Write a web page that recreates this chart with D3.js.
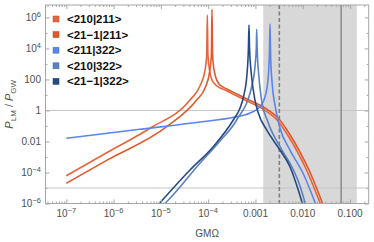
<!DOCTYPE html>
<html>
<head>
<meta charset="utf-8">
<script src="https://cdn.jsdelivr.net/npm/d3@7"></script>
<style>
  body { margin: 0; background: #fff; }
  svg { display: block; font-family: "Liberation Sans", Arial, sans-serif; }
</style>
</head>
<body>
<script>
// valeurs : [GMΩ, P_LM/P_GW]
const s210_211 = [
  [1e-7, 6.2e-5], [7.6e-7, 2.1e-3], [5.9e-6, 0.071], [4.13e-5, 4.7], [6.7e-5, 37.7],
  [8.6e-5, 405], [9.3e-5, 3600], [9.6e-5, 1.43e6], [9.9e-5, 3600], [1.07e-4, 405],
  [1.205e-4, 92], [1.54e-4, 37.7], [2.27e-4, 20.8], [3.7e-4, 9.9], [6.6e-4, 4.07],
  [1.44e-3, 1.24], [2.86e-3, 0.242], [4.65e-3, 0.0303], [7.56e-3, 2.43e-3],
  [0.0123, 1.25e-4], [0.02, 3.5e-6], [0.0268, 3.8e-7]
];
const s21m1_211 = [
  [1e-7, 2.0e-5], [7.6e-7, 6.7e-4], [1.33e-5, 0.0896], [5.71e-5, 4.7], [8.6e-5, 28],
  [1.07e-4, 301], [1.17e-4, 3600], [1.205e-4, 3.3e6], [1.24e-4, 3600], [1.36e-4, 301],
  [1.69e-4, 50.7], [2.5e-4, 24.2], [4.07e-4, 11.5], [7.3e-4, 4.7], [1.59e-3, 1.44],
  [3.14e-3, 0.281], [5.1e-3, 0.0352], [8.3e-3, 2.8e-3], [0.01355, 1.45e-4],
  [0.022, 4.1e-6], [0.0295, 3.8e-7]
];
const s211_322 = [
  [1e-7, 0.016], [3.6e-6, 0.061], [6.7e-5, 0.18], [3.7e-4, 0.378], [7.7e-4, 0.685],
  [1.25e-3, 1.74], [1.59e-3, 7.4], [1.84e-3, 92], [1.97e-3, 3760], [2.03e-3, 3.75e5],
  [2.09e-3, 3760], [2.27e-3, 43.7], [2.59e-3, 2.24], [3.3e-3, 0.074], [5.37e-3, 2.8e-3],
  [0.0101, 9.3e-5], [0.0197, 6.2e-7]
];
const s210_322 = [
  [7.2e-6, 2.1e-7], [1.44e-5, 1.68e-6], [6.7e-5, 3.9e-4], [1.78e-4, 0.0107], [4.0e-4, 0.242],
  [8.3e-4, 34], [9.77e-4, 662], [1.045e-3, 1.29e4], [1.06e-3, 1.7e5], [1.085e-3, 1.29e4],
  [1.2e-3, 92], [1.35e-3, 4.7], [1.84e-3, 0.18], [3.64e-3, 2.8e-3], [5.9e-3, 2.26e-4],
  [8.75e-3, 1.35e-5], [0.0117, 6.9e-7]
];
const s21m1_322 = [
  [5.9e-6, 2.1e-7], [4.13e-5, 1.45e-4], [1.28e-4, 4.6e-3], [3.4e-4, 0.242], [4.7e-4, 1.38],
  [5.7e-4, 9.9], [6.6e-4, 193], [7.1e-4, 1.06e4], [7.3e-4, 3.2e5], [7.5e-4, 1.06e4],
  [8.3e-4, 150], [9.77e-4, 4.7], [1.13e-3, 0.79], [1.73e-3, 0.055], [3.3e-3, 2.8e-3],
  [5.37e-3, 2.36e-4], [8.05e-3, 7.4e-6], [0.0103, 6.2e-7]
];

const seriesNames = ["<210|211>", "<21\u22121|211>", "<211|322>", "<210|322>", "<21\u22121|322>"];
const seriesData = [s210_211, s21m1_211, s211_322, s210_322, s21m1_322];
const seriesColors = ["#e9643a", "#e0582b", "#5b84ee", "#5a80c2", "#264a84"];

const xTicks = [1e-7, 1e-6, 1e-5, 1e-4, 1e-3, 1e-2, 1e-1];
const xTickLabels = [["10", "\u22127"], ["10", "\u22126"], ["10", "\u22125"], ["10", "\u22124"], ["0.001"], ["0.010"], ["0.100"]];
const yTicks = [1e6, 1e4, 100, 1, 0.01, 1e-4, 1e-6];
const yTickLabels = [["10", "6"], ["10", "4"], ["100"], ["1"], ["0.01"], ["10", "\u22124"], ["10", "\u22126"]];

const shadeRange = [1.46e-3, 0.139];
const dashedX = 3.2e-3;
const solidX = 0.065;
const hLines = [1, 1e-5];

const width = 374, height = 242;
const svg = d3.select("body").append("svg").attr("width", width).attr("height", height);

const x = d3.scaleLog().domain([10 ** -7.44, 10 ** -0.605]).range([45.5, 368.7]);
const y = d3.scaleLog().domain([1e-6, 10 ** 6.8]).range([203.5, 5]);

const [x0, x1] = x.range();
const [y0, y1] = y.range();

svg.append("clipPath").attr("id", "clip")
  .append("rect").attr("x", x0).attr("y", y1).attr("width", x1 - x0).attr("height", y0 - y1);

// zone grisée
svg.append("rect")
  .attr("x", x(shadeRange[0])).attr("y", y1)
  .attr("width", x(shadeRange[1]) - x(shadeRange[0])).attr("height", y0 - y1)
  .attr("fill", "#d8d8d8");

// lignes horizontales
svg.selectAll(".hline").data(hLines).join("line")
  .attr("x1", x0).attr("x2", x1)
  .attr("y1", d => y(d)).attr("y2", d => y(d))
  .attr("stroke", "#c4c4c4").attr("stroke-width", 1);

svg.append("line")
  .attr("x1", x(dashedX)).attr("x2", x(dashedX)).attr("y1", y1).attr("y2", y0)
  .attr("stroke", "#7e7e7e").attr("stroke-width", 1.6).attr("stroke-dasharray", "4,2.5");
svg.append("line")
  .attr("x1", x(solidX)).attr("x2", x(solidX)).attr("y1", y1).attr("y2", y0)
  .attr("stroke", "#8a8a8a").attr("stroke-width", 1.5);

// courbes
const line = d3.line().x(d => x(d[0])).y(d => y(d[1])).curve(d3.curveMonotoneX);
svg.append("g").attr("clip-path", "url(#clip)")
  .selectAll("path").data(seriesData).join("path")
  .attr("d", line)
  .attr("fill", "none")
  .attr("stroke", (d, i) => seriesColors[i])
  .attr("stroke-width", 1.6);

// cadre + graduations
const frameColor = "#a6a6a6";
const xMinor = [];
for (let e = -8; e <= 0; e++) for (let m = 2; m <= 9; m++) {
  const v = m * 10 ** e;
  if (v > x.domain()[0] && v < x.domain()[1]) xMinor.push(v);
}
const yMinor = [1e5, 1e3, 10, 0.1, 1e-3, 1e-5];

function drawAxis(axis, tx, ty) {
  const g = svg.append("g").attr("transform", `translate(${tx},${ty})`).call(axis);
  g.select(".domain").remove();
  g.selectAll("line").attr("stroke", frameColor);
  g.selectAll("text").remove();
}
drawAxis(d3.axisBottom(x).tickValues(xTicks).tickSize(-4), 0, y0);
drawAxis(d3.axisBottom(x).tickValues(xMinor).tickSize(-2), 0, y0);
drawAxis(d3.axisTop(x).tickValues(xTicks).tickSize(-4), 0, y1);
drawAxis(d3.axisTop(x).tickValues(xMinor).tickSize(-2), 0, y1);
drawAxis(d3.axisLeft(y).tickValues(yTicks).tickSize(-4), x0, 0);
drawAxis(d3.axisLeft(y).tickValues(yMinor).tickSize(-2), x0, 0);
drawAxis(d3.axisRight(y).tickValues(yTicks).tickSize(-4), x1, 0);
drawAxis(d3.axisRight(y).tickValues(yMinor).tickSize(-2), x1, 0);

svg.append("rect")
  .attr("x", x0).attr("y", y1).attr("width", x1 - x0).attr("height", y0 - y1)
  .attr("fill", "none").attr("stroke", frameColor).attr("stroke-width", 1);

// étiquettes
const labelColor = "#505050";
function tickText(sel, parts) {
  sel.append("tspan").text(parts[0]);
  if (parts[1]) sel.append("tspan").attr("dy", -4).attr("font-size", 7.5).text(parts[1]);
}
xTicks.forEach((v, i) => {
  svg.append("text").attr("x", x(v)).attr("y", 217)
    .attr("text-anchor", "middle").attr("font-size", 10).attr("fill", labelColor)
    .call(tickText, xTickLabels[i]);
});
yTicks.forEach((v, i) => {
  svg.append("text").attr("x", 41).attr("y", y(v) + 3.5)
    .attr("text-anchor", "end").attr("font-size", 10).attr("fill", labelColor)
    .call(tickText, yTickLabels[i]);
});

svg.append("text").attr("x", (x0 + x1) / 2).attr("y", 237)
  .attr("text-anchor", "middle").attr("font-size", 10).attr("fill", labelColor)
  .text("GMΩ");

const yl = svg.append("text")
  .attr("transform", `translate(13,${(y0 + y1) / 2}) rotate(-90)`)
  .attr("text-anchor", "middle").attr("font-size", 11).attr("fill", labelColor);
yl.append("tspan").attr("font-style", "italic").text("P");
yl.append("tspan").attr("dy", 2.5).attr("font-size", 8).text("LM");
yl.append("tspan").attr("dy", -2.5).text(" / ");
yl.append("tspan").attr("font-style", "italic").text("P");
yl.append("tspan").attr("dy", 2.5).attr("font-size", 8).text("GW");

// légende
const legend = svg.append("g");
seriesNames.forEach((name, i) => {
  const ly = 19 + i * 15.6;
  legend.append("rect").attr("x", 53).attr("y", ly - 3).attr("width", 6).attr("height", 6)
    .attr("fill", seriesColors[i]).attr("stroke", d3.color(seriesColors[i]).darker(0.6)).attr("stroke-width", 0.5);
  legend.append("text").attr("x", 67).attr("y", ly + 4)
    .attr("font-size", 11.5).attr("font-weight", "bold").attr("fill", "#111")
    .text(name);
});
</script>
</body>
</html>
